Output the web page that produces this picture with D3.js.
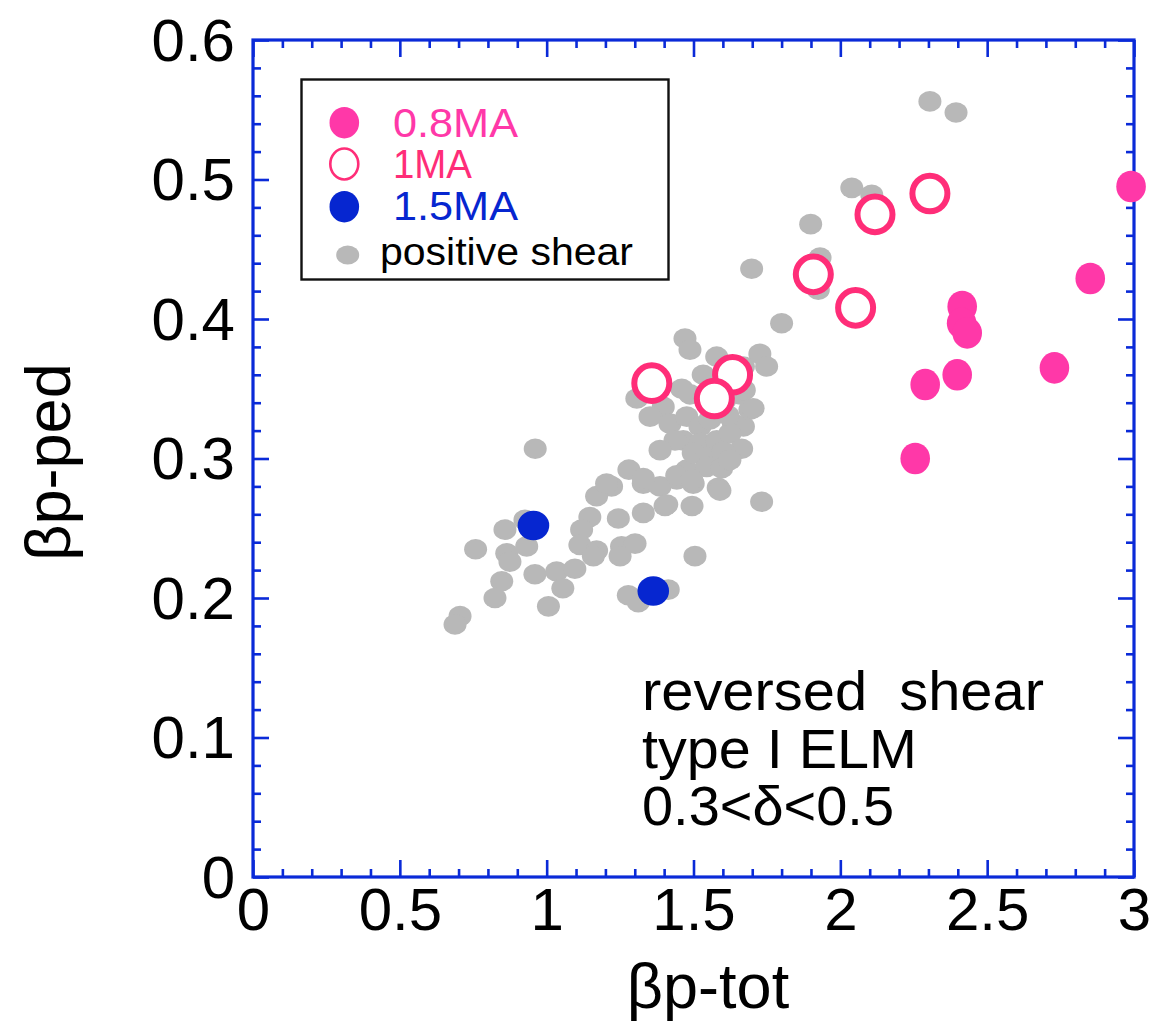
<!DOCTYPE html>
<html><head><meta charset="utf-8">
<script src="https://cdn.jsdelivr.net/npm/d3@7"></script>
<style>body{margin:0;background:#fff;} svg{display:block;font-family:"Liberation Sans",Arial,Helvetica,sans-serif;}</style>
</head><body>
<svg id="c" width="1164" height="1027"></svg>
<script>
// ---- data ----
const xTicks = [0, 0.5, 1, 1.5, 2, 2.5, 3];
const xTickLabels = ["0", "0.5", "1", "1.5", "2", "2.5", "3"];
const yTicks = [0, 0.1, 0.2, 0.3, 0.4, 0.5, 0.6];
const yTickLabels = ["0", "0.1", "0.2", "0.3", "0.4", "0.5", "0.6"];

const ma08 = [[2.99,0.495],[2.851,0.429],[2.415,0.409],[2.413,0.397],[2.432,0.390],[2.729,0.365],[2.398,0.360],[2.289,0.353],[2.255,0.300]];
const ma1 = [[2.305,0.490],[2.118,0.475],[1.908,0.432],[2.052,0.408],[1.358,0.354],[1.633,0.360],[1.571,0.343]];
const ma15 = [[0.955,0.252],[1.363,0.205]];
const positiveShear = [
 [0.961,0.307],[1.280,0.292],[1.221,0.280],[1.170,0.273],[1.329,0.282],[1.386,0.280],[1.443,0.285],[1.477,0.292],
 [1.329,0.261],[1.403,0.266],[1.244,0.257],[1.147,0.258],[1.119,0.249],[1.113,0.238],[1.170,0.234],[1.159,0.230],
 [1.255,0.237],[1.301,0.239],[1.250,0.230],[0.858,0.249],[0.926,0.256],[0.932,0.237],[0.864,0.232],[0.875,0.226],
 [0.758,0.235],[0.960,0.217],[1.034,0.219],[1.096,0.221],[1.055,0.207],[0.847,0.212],[0.824,0.200],[1.006,0.194],
 [0.705,0.187],[0.688,0.181],[1.278,0.202],[1.312,0.197],[1.414,0.206],[1.505,0.230],[1.495,0.266],
 [1.471,0.386],[1.488,0.378],[1.800,0.397],[1.579,0.373],[1.726,0.375],[1.749,0.366],[1.670,0.366],
 [1.307,0.343],[1.460,0.350],[1.533,0.360],[1.397,0.337],[1.352,0.330],[1.420,0.325],[1.477,0.330],[1.522,0.323],
 [1.556,0.328],[1.636,0.325],[1.670,0.323],[1.692,0.335],[1.465,0.313],[1.522,0.311],[1.579,0.313],[1.624,0.318],
 [1.664,0.307],[1.499,0.304],[1.545,0.301],[1.601,0.305],[1.329,0.286],[1.443,0.288],[1.545,0.294],[1.596,0.293],
 [1.499,0.282],[1.584,0.279],[1.732,0.269],[1.204,0.282],[1.409,0.267],[1.899,0.468],[1.931,0.444],[1.925,0.421],
 [1.698,0.436],[2.305,0.556],[2.394,0.548],[2.039,0.494],[2.107,0.489],[1.590,0.277],[1.494,0.285],
 [1.607,0.342],[1.658,0.346],[1.556,0.342],[1.488,0.346],[1.617,0.331],[1.437,0.313],[1.386,0.306],[1.624,0.299],
 [1.673,0.349],[1.703,0.336]
];
const legendItems = ["0.8MA", "1MA", "1.5MA", "positive shear"];
const noteLines = ["reversed\u00a0\u00a0shear", "type I ELM", "0.3<\u03b4<0.5"];

// ---- layout ----
const svg = d3.select("#c");
const L = 253, R = 1134, T = 40, B = 877;
const x = d3.scaleLinear().domain([0, 3]).range([L, R]);
const y = d3.scaleLinear().domain([0, 0.6]).range([B, T]);
const axisCol = "#0a2ad8";
const pink = "#ff38a8", pinkRing = "#ff2d78", blue = "#0626d0", gray = "#b8b8b8";

const xMinor = d3.range(0, 31).map(i => i / 10).filter(v => Math.abs(v * 2 - Math.round(v * 2)) > 1e-6);
const yMinor = d3.range(0, 31).map(i => i / 50).filter(v => Math.abs(v * 10 - Math.round(v * 10)) > 1e-6);

function styleAxis(g) {
  g.select(".domain").remove();
  g.selectAll(".tick line").attr("stroke", axisCol).attr("stroke-width", 2.6);
}
// bottom
svg.append("g").attr("transform", `translate(0,${B})`)
  .call(d3.axisBottom(x).tickValues(xTicks).tickSize(-17).tickFormat((d, i) => xTickLabels[i]))
  .call(styleAxis)
  .call(g => g.selectAll("text").attr("font-size", 60).attr("fill", "#000").attr("dy", 0).attr("y", 53));
svg.append("g").attr("transform", `translate(0,${B})`)
  .call(d3.axisBottom(x).tickValues(xMinor).tickSize(-8).tickFormat("")).call(styleAxis);
// top
svg.append("g").attr("transform", `translate(0,${T})`)
  .call(d3.axisTop(x).tickValues(xTicks).tickSize(-17).tickFormat("")).call(styleAxis);
svg.append("g").attr("transform", `translate(0,${T})`)
  .call(d3.axisTop(x).tickValues(xMinor).tickSize(-8).tickFormat("")).call(styleAxis);
// left
svg.append("g").attr("transform", `translate(${L},0)`)
  .call(d3.axisLeft(y).tickValues(yTicks).tickSize(-16).tickFormat((d, i) => yTickLabels[i]))
  .call(styleAxis)
  .call(g => g.selectAll("text").attr("font-size", 60).attr("fill", "#000").attr("x", -18).attr("dy", "0.34em"));
svg.append("g").attr("transform", `translate(${L},0)`)
  .call(d3.axisLeft(y).tickValues(yMinor).tickSize(-8).tickFormat("")).call(styleAxis);
// right
svg.append("g").attr("transform", `translate(${R},0)`)
  .call(d3.axisRight(y).tickValues(yTicks).tickSize(-16).tickFormat("")).call(styleAxis);
svg.append("g").attr("transform", `translate(${R},0)`)
  .call(d3.axisRight(y).tickValues(yMinor).tickSize(-8).tickFormat("")).call(styleAxis);

// frame
svg.append("rect").attr("x", L).attr("y", T).attr("width", R - L).attr("height", B - T)
  .attr("fill", "none").attr("stroke", axisCol).attr("stroke-width", 3.2);

// points
svg.append("g").selectAll("ellipse").data(positiveShear).join("ellipse")
  .attr("cx", d => x(d[0])).attr("cy", d => y(d[1])).attr("rx", 11.5).attr("ry", 10.3).attr("fill", gray);
svg.append("g").selectAll("ellipse").data(ma08).join("ellipse")
  .attr("cx", d => x(d[0])).attr("cy", d => y(d[1])).attr("rx", 14.8).attr("ry", 15.8).attr("fill", pink);
svg.append("g").selectAll("ellipse").data(ma1).join("ellipse")
  .attr("cx", d => x(d[0])).attr("cy", d => y(d[1])).attr("rx", 17.5).attr("ry", 17.8)
  .attr("fill", "#fff").attr("stroke", pinkRing).attr("stroke-width", 6);
svg.append("g").selectAll("ellipse").data(ma15).join("ellipse")
  .attr("cx", d => x(d[0])).attr("cy", d => y(d[1])).attr("rx", 15.8).attr("ry", 14.8).attr("fill", blue);

// legend
const lg = svg.append("g");
lg.append("rect").attr("x", 301.5).attr("y", 79.5).attr("width", 367).attr("height", 200)
  .attr("fill", "#fff").attr("stroke", "#111").attr("stroke-width", 2.4);
lg.append("ellipse").attr("cx", 344.3).attr("cy", 122.7).attr("rx", 14.8).attr("ry", 15.8).attr("fill", pink);
lg.append("ellipse").attr("cx", 344.3).attr("cy", 164).attr("rx", 14).attr("ry", 15.5)
  .attr("fill", "#fff").attr("stroke", pinkRing).attr("stroke-width", 2.6);
lg.append("ellipse").attr("cx", 344.3).attr("cy", 206.7).attr("rx", 14.8).attr("ry", 15.8).attr("fill", blue);
lg.append("ellipse").attr("cx", 347.7).attr("cy", 255).attr("rx", 11.5).attr("ry", 9.6).attr("fill", gray);
const legCols = [pink, pinkRing, blue, "#000"];
const legX = [393, 393, 393, 380];
const legY = [136.7, 178.3, 220, 265];
const legSize = [40.5, 40.5, 40.5, 38];
const legLen = [125, 79, 125, 253];
lg.selectAll("text").data(legendItems).join("text")
  .attr("x", (d, i) => legX[i]).attr("y", (d, i) => legY[i])
  .attr("font-size", (d, i) => legSize[i]).attr("fill", (d, i) => legCols[i])
  .attr("textLength", (d, i) => legLen[i]).attr("lengthAdjust", "spacingAndGlyphs")
  .text(d => d);

// annotation
const noteLen = [402, 275, 252];
svg.append("g").selectAll("text").data(noteLines).join("text")
  .attr("x", 642).attr("y", (d, i) => 710 + i * 57.5)
  .attr("font-size", 55).attr("fill", "#000")
  .attr("textLength", (d, i) => noteLen[i]).attr("lengthAdjust", "spacingAndGlyphs")
  .text(d => d);

// axis titles
svg.append("text").attr("x", 708).attr("y", 1008).attr("text-anchor", "middle")
  .attr("font-size", 63).attr("fill", "#000").text("\u03b2p-tot");
svg.append("text").attr("transform", `translate(70,462) rotate(-90)`).attr("text-anchor", "middle")
  .attr("font-size", 63).attr("fill", "#000").text("\u03b2p-ped");
</script>
</body></html>
